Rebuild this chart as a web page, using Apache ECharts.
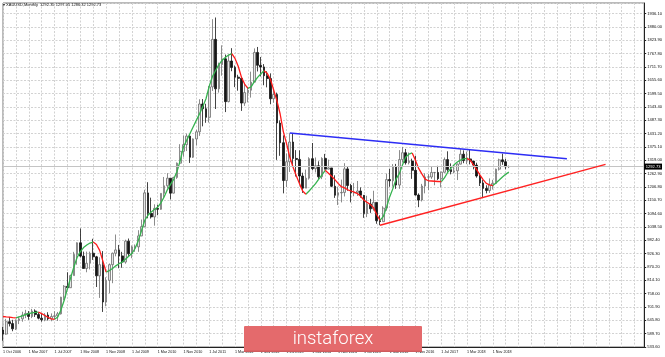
<!DOCTYPE html>
<html><head><meta charset="utf-8">
<script src="https://cdn.jsdelivr.net/npm/echarts@6/dist/echarts.min.js"></script>
<style>html,body{margin:0;padding:0;background:#fff}#c{width:665px;height:357px}</style>
</head><body><div id="c"></div>
<script>
// ---- data (monthly XAUUSD bars) ----
const opens = [605,588,640,632,610,645,652,668,675,662,685,670,655,648,668,652,662,665,673,743,789,783,834,923,972,916,864,886,928,913,833,880,723,814,880,928,942,917,891,979,926,955,955,1001,1040,1182,1096,1081,1117,1113,1180,1212,1244,1181,1247,1307,1357,1385,1421,1332,1409,1439,1556,1536,1500,1628,1828,1620,1722,1746,1566,1737,1710,1669,1664,1560,1604,1614,1648,1773,1719,1712,1675,1663,1578,1596,1476,1393,1234,1313,1396,1327,1323,1253,1202,1244,1326,1284,1296,1250,1327,1282,1287,1210,1172,1182,1184,1283,1213,1183,1183,1190,1172,1095,1135,1115,1142,1065,1061,1118,1238,1233,1293,1215,1322,1351,1309,1316,1277,1173,1152,1211,1249,1249,1268,1268,1242,1269,1322,1280,1271,1275,1303,1345,1318,1325,1316,1299,1253,1224,1201,1192,1215,1222,1282,1321,1313,1292.35];
const highs = [618,652,660,648,650,662,682,690,685,694,692,680,672,676,680,675,684,681,745,794,848,838,934,974,1032,935,935,935,989,917,911,937,827,885,931,1007,963,934,985,990,961,965,1025,1070,1195,1227,1162,1134,1132,1180,1249,1265,1244,1250,1310,1387,1424,1431,1424,1411,1447,1576,1577,1557,1632,1913,1920,1730,1803,1764,1764,1791,1718,1679,1668,1640,1628,1692,1790,1796,1754,1724,1694,1685,1617,1604,1487,1424,1348,1433,1434,1362,1361,1267,1280,1332,1392,1331,1315,1332,1346,1322,1287,1256,1208,1238,1307,1291,1220,1224,1232,1205,1173,1170,1157,1191,1142,1088,1126,1263,1283,1303,1304,1362,1375,1367,1352,1326,1338,1180,1220,1264,1261,1295,1270,1296,1272,1331,1357,1306,1299,1306,1366,1361,1356,1365,1316,1309,1265,1236,1214,1243,1237,1284,1326,1347,1325,1297.05];
const lows = [560,585,620,600,605,630,640,655,648,655,660,650,640,642,645,642,650,643,670,731,775,782,834,880,910,864,848,860,900,786,740,681,705,760,802,915,865,867,884,915,907,934,934,1000,1040,1075,1074,1044,1088,1111,1161,1201,1155,1180,1241,1305,1334,1358,1308,1329,1381,1422,1462,1477,1478,1611,1535,1604,1675,1522,1563,1694,1627,1612,1527,1548,1563,1583,1648,1693,1672,1635,1626,1555,1562,1321,1338,1180,1207,1270,1292,1251,1221,1182,1202,1238,1277,1268,1240,1240,1281,1281,1206,1161,1131,1142,1167,1191,1142,1168,1169,1162,1077,1080,1098,1107,1052,1046,1061,1107,1208,1208,1199,1199,1310,1301,1302,1241,1171,1122,1146,1180,1194,1241,1214,1236,1205,1267,1271,1260,1264,1236,1302,1307,1303,1302,1281,1246,1211,1160,1180,1182,1196,1221,1276,1300,1281,1286.32];
const closes = [588,640,632,610,645,652,668,675,662,685,670,655,648,668,652,662,665,673,743,789,783,834,923,972,916,864,886,928,913,833,880,723,814,880,928,942,917,891,979,926,955,955,1001,1040,1182,1096,1081,1117,1113,1180,1212,1244,1181,1247,1307,1357,1385,1421,1332,1409,1439,1556,1536,1500,1628,1828,1620,1722,1746,1566,1737,1710,1669,1664,1560,1604,1614,1648,1773,1719,1712,1675,1663,1578,1596,1476,1393,1234,1313,1396,1327,1323,1253,1202,1244,1326,1284,1296,1250,1327,1282,1287,1210,1172,1182,1184,1283,1213,1183,1183,1190,1172,1095,1135,1115,1142,1065,1061,1118,1238,1233,1293,1215,1322,1351,1309,1316,1277,1173,1152,1211,1249,1249,1268,1268,1242,1269,1322,1280,1271,1275,1303,1345,1318,1325,1316,1299,1253,1224,1201,1192,1215,1222,1282,1321,1313,1292,1292.73];
// trend-colored moving average
const maValues = [662,660,659,657,656,660,665,670,674,677,679,680,674,666,658,652,650,660,690,730,780,825,870,910,935,952,963,971,975,965,940,895,849,855,864,875,884,891,903,915,927,948,982,1024,1067,1088,1102,1112,1122,1140,1165,1195,1218,1240,1272,1318,1375,1403,1431,1459,1487,1515,1545,1578,1630,1672,1697,1722,1740,1752,1762,1768,1748,1715,1669,1640,1622,1628,1650,1668,1682,1696,1685,1660,1615,1570,1515,1440,1389,1333,1291,1255,1221,1190,1176,1190,1205,1221,1240,1258,1277,1265,1252,1238,1222,1208,1203,1195,1190,1185,1179,1168,1152,1142,1133,1120,1090,1067,1082,1120,1165,1200,1240,1263,1300,1333,1345,1350,1319,1285,1262,1240,1233,1232,1231,1230,1229,1245,1268,1285,1300,1312,1320,1325,1327,1320,1300,1280,1258,1238,1222,1216,1213,1224,1236,1249,1260,1270];
// hand-drawn trend lines: [bar index, price]
const blueLine = [[89, 1434], [175, 1326]];
const redLine = [[117, 1046], [187, 1302]];
// time-scale tick labels: bar index and text
const dateTickIdx = [0,8,16,24,32,40,48,56,64,72,80,88,96,104,112,120,128,136,144,152];
const dateTickText = ["1 Oct 2006","1 Mar 2007","1 Jul 2007","1 Mar 2008","1 Nov 2008","1 Jul 2009","1 Mar 2010","1 Nov 2010","1 Jul 2011","1 Mar 2012","1 Nov 2012","1 Jul 2013","1 Mar 2014","1 Nov 2014","1 Jul 2015","1 Mar 2016","1 Nov 2016","1 Jul 2017","1 Mar 2018","1 Nov 2018"];
const priceMin = 533.6, priceStep = 56.1, priceMax = 1981.0;
const header = "XAUUSD,Monthly  1292.35 1297.05 1286.32 1292.73";
const lastPrice = 1292.73;

// ---- build ----
const totalSlots = 200;
const cats = [];
for (let i = 0; i < totalSlots; i++) cats.push(String(i));
const labelMap = {};
dateTickIdx.forEach((ix, k) => { labelMap[ix] = dateTickText[k]; });
const candles = opens.map((o, i) => [o, closes[i], lows[i], highs[i]]);
const n = maValues.length;
const up = [], dn = [];
for (let i = 0; i < n; i++) {
  const rPrev = i > 0 && maValues[i] >= maValues[i-1];
  const rNext = i < n-1 && maValues[i+1] >= maValues[i];
  const fPrev = i > 0 && maValues[i] < maValues[i-1];
  const fNext = i < n-1 && maValues[i+1] < maValues[i];
  up.push(rPrev || rNext ? maValues[i] : null);
  dn.push(fPrev || fNext ? maValues[i] : null);
}
const FONT = 'Liberation Sans';
const chart = echarts.init(document.getElementById('c'), null, {renderer: 'canvas'});
chart.setOption({
  animation: false,
  backgroundColor: '#ffffff',
  grid: {left: 2, top: 3, width: 645, height: 344, show: true, borderColor: '#777', borderWidth: 1},
  xAxis: {
    type: 'category', data: cats, boundaryGap: false,
    axisLine: {show: true, lineStyle: {color: '#222', width: 1}},
    axisTick: {show: false},
    axisLabel: {
      interval: (i) => labelMap[i] !== undefined,
      formatter: (v, i) => labelMap[i] || '',
      fontSize: 3.7, fontFamily: FONT, color: '#111', align: 'left', margin: 3
    },
    splitLine: {show: true, interval: (i) => i % 4 === 0, lineStyle: {color: '#d2d2d2', type: [2, 1.5], width: 1}}
  },
  yAxis: {
    type: 'value', position: 'right', min: priceMin, max: priceMax, interval: priceStep, scale: true,
    axisLine: {show: true, lineStyle: {color: '#222', width: 1}},
    axisTick: {show: true, length: 2, lineStyle: {color: '#222'}},
    axisLabel: {
      fontSize: 4.1, fontFamily: FONT, color: '#111', margin: 3, showMaxLabel: false,
      formatter: (v) => v.toFixed(2)
    },
    splitLine: {show: true, lineStyle: {color: '#d2d2d2', type: [2, 1.5], width: 1}}
  },
  series: [
    {
      type: 'candlestick', data: candles, barWidth: 2.2,
      itemStyle: {color: '#e6e6e6', borderColor: '#6e6e6e', color0: '#151515', borderColor0: '#151515', borderWidth: 0.8},
      markLine: {
        silent: true, symbol: 'none',
        lineStyle: {color: '#c4c4c4', type: 'solid', width: 1},
        label: {show: true, position: 'end', distance: 0, formatter: () => lastPrice.toFixed(2),
          backgroundColor: '#000', color: '#fff', fontSize: 4.1, fontFamily: FONT, padding: [1, 1.5, 1, 1.5]},
        data: [{yAxis: lastPrice}]
      },
      z: 2
    },
    {type: 'line', data: up, symbol: 'none', connectNulls: false, lineStyle: {color: '#35b34f', width: 1.3}, z: 4},
    {type: 'line', data: dn, symbol: 'none', connectNulls: false, lineStyle: {color: '#ff1a1a', width: 1.3}, z: 4},
    {type: 'line', data: blueLine, symbol: 'none', lineStyle: {color: '#2d2df5', width: 1.5}, z: 5},
    {type: 'line', data: redLine, symbol: 'none', lineStyle: {color: '#ff2222', width: 1.5}, z: 5}
  ],
  graphic: [
    {type: 'text', left: 3, top: 2.5, z: 10, style: {text: '\u25BE ' + header, fontSize: 4, fontFamily: FONT, fill: '#111'}},
    {type: 'rect', zlevel: 1, z: 100, shape: {x: 244, y: 326, width: 178, height: 26, r: 1}, style: {fill: '#e46a6c'}},
    {type: 'rect', zlevel: 1, z: 101, shape: {x: 244, y: 350.5, width: 178, height: 1.5}, style: {fill: '#cf5a5c'}},
    {type: 'text', zlevel: 1, z: 102, x: 333, y: 339, style: {text: 'instaforex', fontSize: 18.5, fontFamily: 'Roboto', fontWeight: 300, fill: '#ffffff', align: 'center', verticalAlign: 'middle'}}
  ]
});
</script></body></html>
